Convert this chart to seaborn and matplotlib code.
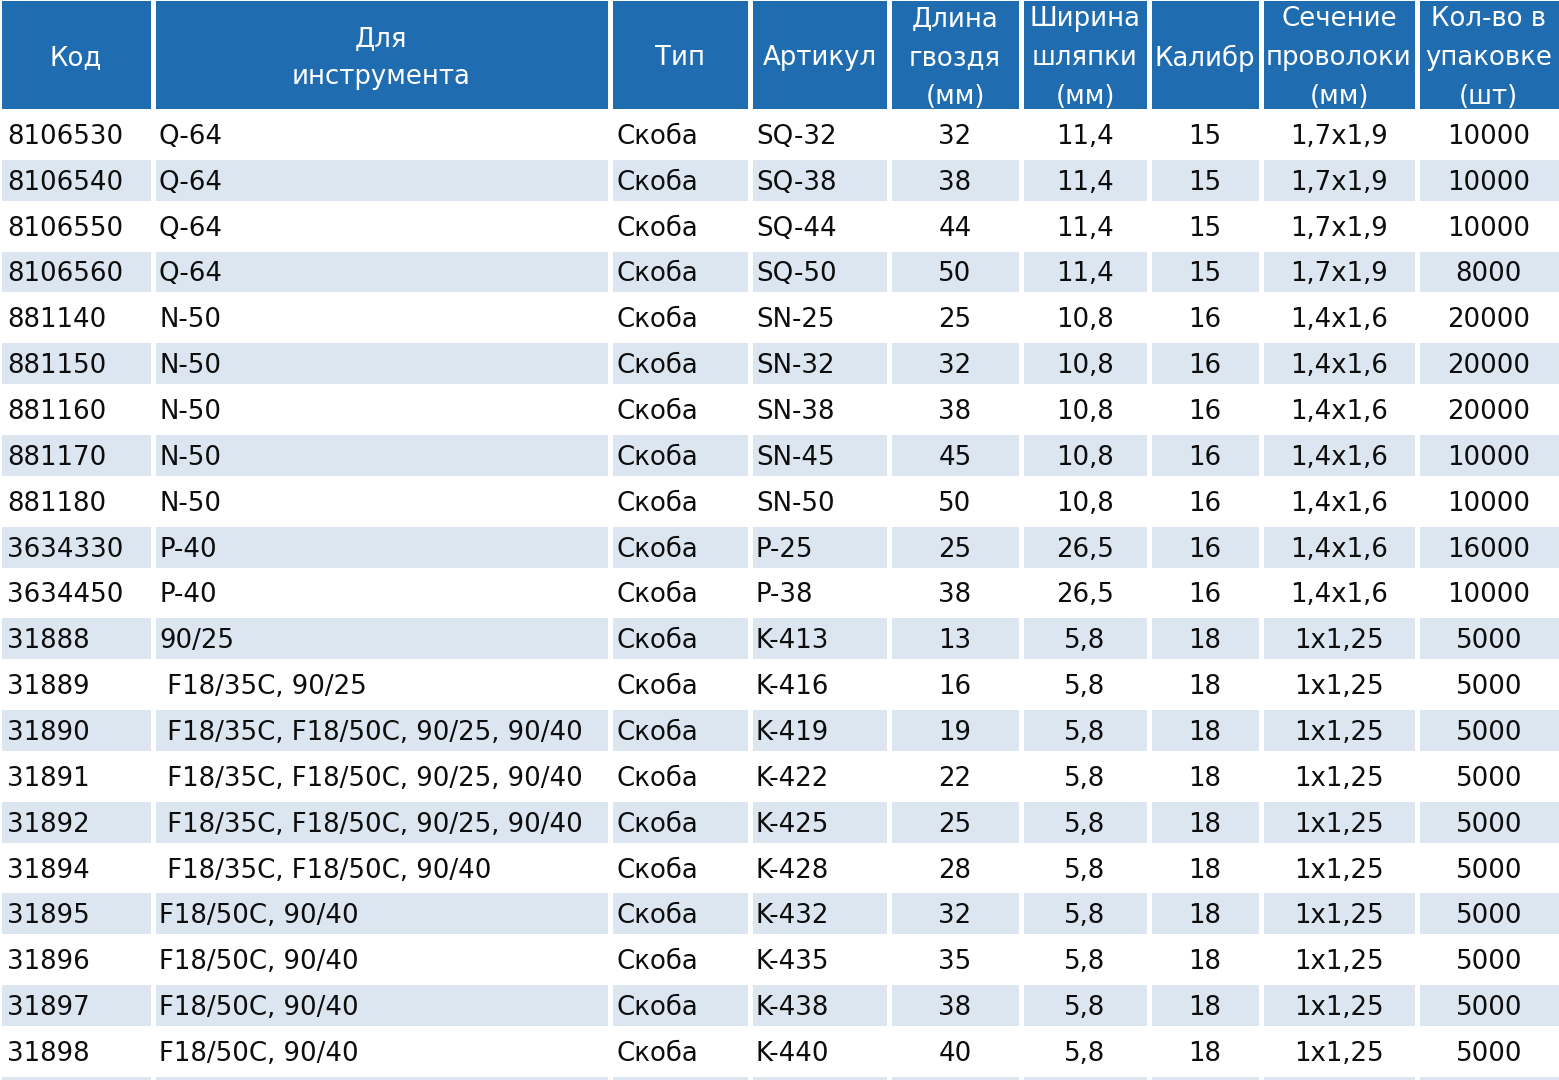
import numpy as np
import pandas as pd
import matplotlib
matplotlib.use("Agg")
import matplotlib.pyplot as plt
import matplotlib.transforms as mtransforms
from matplotlib.colors import ListedColormap
import seaborn as sns

# table data
codes = ["8106530", "8106540", "8106550", "8106560", "881140", "881150", "881160",
         "881170", "881180", "3634330", "3634450", "31888", "31889", "31890",
         "31891", "31892", "31894", "31895", "31896", "31897", "31898"]
tools = ["Q-64", "Q-64", "Q-64", "Q-64", "N-50", "N-50", "N-50", "N-50", "N-50",
         "P-40", "P-40", "90/25", " F18/35C, 90/25",
         " F18/35C, F18/50C, 90/25, 90/40", " F18/35C, F18/50C, 90/25, 90/40",
         " F18/35C, F18/50C, 90/25, 90/40", " F18/35C, F18/50C, 90/40",
         "F18/50C, 90/40", "F18/50C, 90/40", "F18/50C, 90/40", "F18/50C, 90/40"]
kinds = ["Скоба"] * 21
articles = ["SQ-32", "SQ-38", "SQ-44", "SQ-50", "SN-25", "SN-32", "SN-38", "SN-45",
            "SN-50", "P-25", "P-38", "K-413", "K-416", "K-419", "K-422", "K-425",
            "K-428", "K-432", "K-435", "K-438", "K-440"]
lengths = ["32", "38", "44", "50", "25", "32", "38", "45", "50", "25", "38",
           "13", "16", "19", "22", "25", "28", "32", "35", "38", "40"]
head_widths = ["11,4"] * 4 + ["10,8"] * 5 + ["26,5"] * 2 + ["5,8"] * 10
gauges = ["15"] * 4 + ["16"] * 7 + ["18"] * 10
wires = ["1,7x1,9"] * 4 + ["1,4x1,6"] * 7 + ["1x1,25"] * 10
quantities = ["10000", "10000", "10000", "8000", "20000", "20000", "20000",
              "10000", "10000", "16000", "10000"] + ["5000"] * 10

headers = ["Код", "Для\nинструмента", "Тип", "Артикул", "Длина\nгвоздя\n(мм)",
           "Ширина\nшляпки\n(мм)", "Калибр", "Сечение\nпроволоки\n(мм)",
           "Кол-во в\nупаковке\n(шт)"]

df = pd.DataFrame({
    "code": codes, "tool": tools, "kind": kinds, "article": articles,
    "length": lengths, "head": head_widths, "gauge": gauges, "wire": wires,
    "qty": quantities,
})

# layout (pixels)
W, H = 1559, 1080
col_edges = [-1.5, 153, 610, 750, 889, 1021, 1149, 1261, 1417, 1560.5]
header_h = 111
row_h = 45.85
aligns = ["left"] * 4 + ["center"] * 5
pads = [8.5, 6, 6, 6, 0, 0, 0, 0, 0]

header_blue = "#1f6cb1"
stripe_blue = "#dce6f1"
text_dark = "#0d0d0d"

sns.set_theme(style="white")
plt.rcParams["font.family"] = ["DejaVu Sans"]

fig = plt.figure(figsize=(W / 100, H / 100), dpi=100)
fig.patch.set_facecolor("white")

n_rows = len(df)
stripes = (np.arange(n_rows + 1) % 2).reshape(-1, 1)
stripe_cmap = ListedColormap(["white", stripe_blue])
head_cmap = ListedColormap([header_blue])
visible_rows = (H - header_h) / row_h
fs = 18.7

for j, col in enumerate(df.columns):
    x0, x1 = col_edges[j], col_edges[j + 1]
    w = x1 - x0

    # header cell (pushed a little above the top edge so no white border shows)
    hh = header_h + 2
    hax = fig.add_axes([x0 / W, 1 - header_h / H, w / W, hh / H])
    sns.heatmap(np.zeros((1, 1)), ax=hax, cmap=head_cmap, cbar=False,
                linewidths=2.2, linecolor="white",
                xticklabels=False, yticklabels=False)
    hax.text(0.5, 0.5 - 3.5 / hh, headers[j], transform=hax.transAxes,
             ha="center", va="center", color="white", fontsize=fs,
             linespacing=1.64)

    # body cells
    bax = fig.add_axes([x0 / W, 0, w / W, (H - header_h) / H])
    sns.heatmap(stripes, ax=bax, cmap=stripe_cmap, vmin=0, vmax=1, cbar=False,
                linewidths=2.2, linecolor="white",
                xticklabels=False, yticklabels=False)
    bax.set_ylim(visible_rows, 0)
    trans = mtransforms.blended_transform_factory(bax.transAxes, bax.transData)
    if aligns[j] == "left":
        xt = pads[j] / w
    else:
        xt = 0.5
    for i, val in enumerate(df[col]):
        bax.text(xt, i + 0.5, val, transform=trans, ha=aligns[j],
                 va="center_baseline", color=text_dark, fontsize=fs)

fig.savefig("out.png", dpi=100, facecolor="white")
